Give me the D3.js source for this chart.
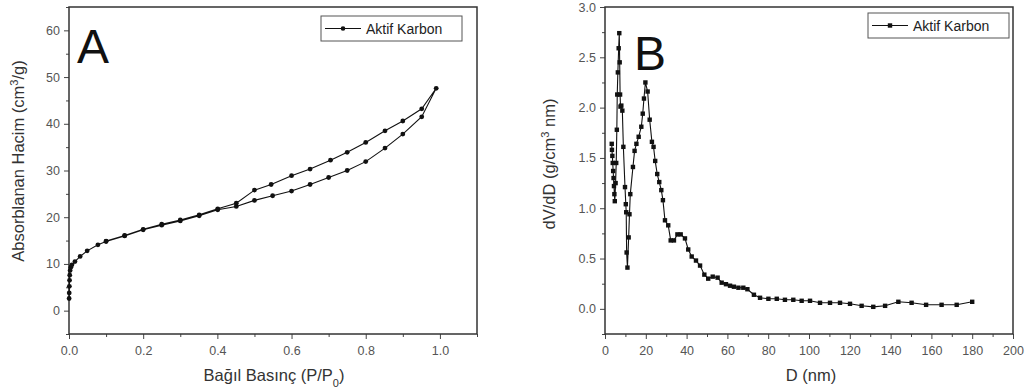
<!DOCTYPE html>
<html>
<head>
<meta charset="utf-8">
<script src="https://cdn.jsdelivr.net/npm/d3@7"></script>
<style>
  body { margin: 0; background: #fff; }
  svg { font-family: "Liberation Sans", Arial, sans-serif; }
</style>
</head>
<body>
<svg width="1029" height="392"></svg>
<script>
// Panel A: adsorption then desorption branch (one series)
var pA = [0.0003, 0.0006, 0.001, 0.0015, 0.002, 0.003, 0.005, 0.008, 0.016, 0.03, 0.049, 0.078, 0.1, 0.15, 0.2, 0.25, 0.3, 0.351, 0.401, 0.451,
          0.5, 0.549, 0.6, 0.65, 0.7, 0.75, 0.8, 0.852, 0.9, 0.951, 0.99,
          0.951, 0.9, 0.852, 0.8, 0.75, 0.705, 0.65, 0.6, 0.545, 0.5, 0.451, 0.401, 0.351, 0.3, 0.25, 0.2, 0.15, 0.1];
var vA = [2.6, 3.8, 5.2, 6.5, 7.6, 8.6, 9.3, 9.8, 10.5, 11.6, 12.8, 14.1, 14.8, 16.0, 17.3, 18.3, 19.2, 20.3, 21.6, 22.3,
          23.6, 24.6, 25.6, 27.0, 28.5, 30.0, 31.9, 34.8, 37.8, 41.5, 47.6,
          43.2, 40.6, 38.5, 36.0, 33.9, 32.2, 30.3, 28.9, 27.0, 25.8, 23.0, 21.8, 20.5, 19.4, 18.5, 17.4, 16.1, 14.9];

// Panel B: pore size distribution
var dB = [3.3, 3.4, 3.6, 3.8, 4.0, 4.2, 4.4, 4.6, 4.8, 5.2, 5.5, 5.8, 6.0, 6.3, 6.7, 7.0, 7.2, 7.4, 7.6, 8.0, 8.5, 9.0, 9.8,
          10.2, 10.4, 10.6, 11.0, 11.6, 12.0, 12.4, 13.7, 14.5, 15.4, 16.5, 17.8, 18.5, 19.1, 19.8, 20.9, 21.9, 23.0, 23.8,
          24.6, 25.6, 26.6, 27.6, 28.4, 29.4, 31.0, 32.2, 33.8, 35.5, 37.1, 39.2, 40.8, 42.5, 44.6, 46.6, 48.7, 50.6, 52.8,
          55.2, 57.2, 59.3, 61.3, 63.2, 65.4, 67.8, 69.8, 73.0, 76.0, 80.1, 84.2, 88.2, 92.3, 96.4, 100.5, 105.4, 110.3,
          115.2, 120.1, 125.8, 131.5, 137.3, 143.8, 150.3, 157.4, 165.0, 172.4, 180.0];
var yB = [1.64, 1.58, 1.52, 1.45, 1.37, 1.30, 1.22, 1.14, 1.07, 1.25, 1.45, 1.78, 2.13, 2.35, 2.59, 2.74, 2.45, 2.13, 2.01, 2.02, 1.97, 1.61, 1.21,
          1.04, 0.96, 0.56, 0.41, 0.71, 0.94, 1.14, 1.41, 1.57, 1.64, 1.71, 1.81, 1.94, 2.09, 2.25, 2.16, 1.88, 1.66, 1.61,
          1.47, 1.34, 1.26, 1.18, 1.08, 0.88, 0.83, 0.68, 0.68, 0.74, 0.74, 0.70, 0.59, 0.52, 0.48, 0.43, 0.34, 0.30, 0.32,
          0.31, 0.26, 0.245, 0.23, 0.22, 0.21, 0.21, 0.195, 0.14, 0.11, 0.10, 0.10, 0.09, 0.09, 0.08, 0.08, 0.06, 0.06,
          0.06, 0.05, 0.03, 0.02, 0.03, 0.07, 0.06, 0.04, 0.04, 0.04, 0.07];

var xTicksA = [0, 0.2, 0.4, 0.6, 0.8, 1.0];
var yTicksA = [0, 10, 20, 30, 40, 50, 60];
var xTicksB = [0, 20, 40, 60, 80, 100, 120, 140, 160, 180, 200];
var yTicksB = [0, 0.5, 1.0, 1.5, 2.0, 2.5, 3.0];
var seriesName = "Aktif Karbon";

var svg = d3.select("svg");

function panel(opt) {
  var x = d3.scaleLinear().domain(opt.xd).range([opt.left, opt.right]);
  var y = d3.scaleLinear().domain(opt.yd).range([opt.bottom, opt.top]);
  var g = svg.append("g");

  // minor ticks
  g.append("g")
    .attr("transform", "translate(0," + opt.bottom + ")")
    .call(d3.axisBottom(x).tickValues(opt.xMinor).tickSize(3).tickFormat(""))
    .call(s => s.select(".domain").remove());
  g.append("g")
    .attr("transform", "translate(" + opt.left + ",0)")
    .call(d3.axisLeft(y).tickValues(opt.yMinor).tickSize(3).tickFormat(""))
    .call(s => s.select(".domain").remove());

  var xa = g.append("g")
    .attr("transform", "translate(0," + opt.bottom + ")")
    .call(d3.axisBottom(x).tickValues(opt.xt).tickSize(5).tickPadding(7).tickFormat(opt.xf));
  var ya = g.append("g")
    .attr("transform", "translate(" + opt.left + ",0)")
    .call(d3.axisLeft(y).tickValues(opt.yt).tickSize(5).tickPadding(4).tickFormat(opt.yf));
  [xa, ya].forEach(a => {
    a.select(".domain").remove();
    a.selectAll("text").attr("fill", "#555").style("font-size", "12.5px");
  });
  g.selectAll(".tick line").attr("stroke", "#444");

  // frame
  g.append("rect")
    .attr("x", opt.left).attr("y", opt.top)
    .attr("width", opt.right - opt.left).attr("height", opt.bottom - opt.top)
    .attr("fill", "none").attr("stroke", "#333").attr("stroke-width", 1.5);

  var pts = opt.xs.map((v, i) => [v, opt.ys[i]]);
  g.append("path")
    .datum(pts)
    .attr("fill", "none").attr("stroke", "#111").attr("stroke-width", 1.1)
    .attr("d", d3.line().x(d => x(d[0])).y(d => y(d[1])));

  if (opt.marker === "square") {
    g.selectAll(".m").data(pts).enter().append("rect")
      .attr("x", d => x(d[0]) - 2.2).attr("y", d => y(d[1]) - 2.2)
      .attr("width", 4.4).attr("height", 4.4).attr("fill", "#111");
  } else {
    g.selectAll(".m").data(pts).enter().append("circle")
      .attr("cx", d => x(d[0])).attr("cy", d => y(d[1]))
      .attr("r", 2.4).attr("fill", "#111");
  }

  // panel letter
  g.append("text").attr("x", opt.letterX).attr("y", opt.letterY)
    .style("font-size", "48px").attr("fill", "#111").text(opt.letter);

  // legend
  var lg = g.append("g").attr("transform", "translate(" + opt.legX + "," + opt.legY + ")");
  lg.append("rect").attr("width", 141).attr("height", 25)
    .attr("fill", "#fff").attr("stroke", "#555").attr("stroke-width", 1);
  lg.append("line").attr("x1", 4).attr("x2", 40).attr("y1", 12.5).attr("y2", 12.5)
    .attr("stroke", "#111").attr("stroke-width", 1.1);
  if (opt.marker === "square") {
    lg.append("rect").attr("x", 19.8).attr("y", 10.3).attr("width", 4.4).attr("height", 4.4).attr("fill", "#111");
  } else {
    lg.append("circle").attr("cx", 22).attr("cy", 12.5).attr("r", 2.3).attr("fill", "#111");
  }
  lg.append("text").attr("x", 45).attr("y", 17.5).style("font-size", "14px").attr("fill", "#222").text(seriesName);

  // axis titles
  var xt = g.append("text").attr("x", opt.xlabX).attr("y", 381)
    .attr("text-anchor", "middle").style("font-size", "16.5px").attr("fill", "#333");
  opt.xlab(xt);
  var yt = g.append("text")
    .attr("transform", "translate(" + opt.ylabX + "," + opt.ylabY + ") rotate(-90)")
    .attr("text-anchor", "middle").style("font-size", "16.5px").attr("fill", "#333");
  opt.ylab(yt);
}

panel({
  left: 69, right: 477, top: 7, bottom: 334,
  xd: [0, 1.1], yd: [-5, 65],
  xt: xTicksA, yt: yTicksA,
  xMinor: [0.1, 0.3, 0.5, 0.7, 0.9, 1.1], yMinor: [-5, 5, 15, 25, 35, 45, 55, 65],
  xf: d3.format(".1f"), yf: d3.format("d"),
  xs: pA, ys: vA, marker: "circle",
  letter: "A", letterX: 77, letterY: 63,
  legX: 321, legY: 16,
  xlabX: 274, ylabX: 24, ylabY: 161,
  xlab: t => {
    t.append("tspan").text("Bağıl Basınç (P/P");
    t.append("tspan").attr("baseline-shift", "sub").style("font-size", "11px").text("0");
    t.append("tspan").text(")");
  },
  ylab: t => {
    t.append("tspan").text("Absorblanan Hacim (cm");
    t.append("tspan").attr("baseline-shift", "super").style("font-size", "11px").text("3");
    t.append("tspan").text("/g)");
  }
});

panel({
  left: 605, right: 1013, top: 7, bottom: 334,
  xd: [0, 200], yd: [-0.25, 3.0],
  xt: xTicksB, yt: yTicksB,
  xMinor: [10, 30, 50, 70, 90, 110, 130, 150, 170, 190], yMinor: [-0.25, 0.25, 0.75, 1.25, 1.75, 2.25, 2.75],
  xf: d3.format("d"), yf: d3.format(".1f"),
  xs: dB, ys: yB, marker: "square",
  letter: "B", letterX: 634, letterY: 70,
  legX: 868, legY: 13,
  xlabX: 811, ylabX: 555, ylabY: 164,
  xlab: t => { t.text("D (nm)"); },
  ylab: t => {
    t.append("tspan").text("dV/dD (g/cm");
    t.append("tspan").attr("baseline-shift", "super").style("font-size", "11px").text("3");
    t.append("tspan").text(" nm)");
  }
});
</script>
</body>
</html>
